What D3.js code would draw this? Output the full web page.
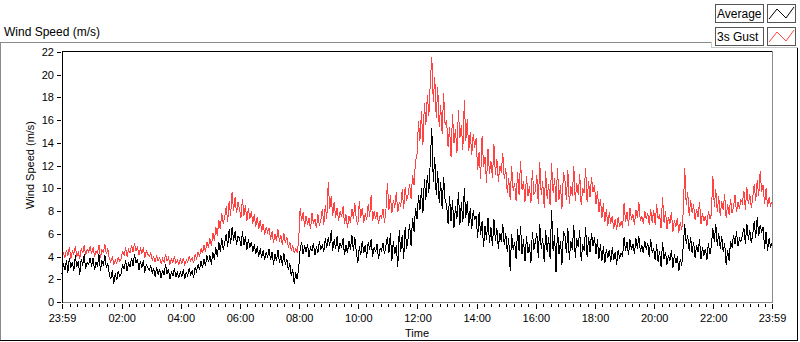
<!DOCTYPE html>
<style type="text/css">
    body { margin: 0; background: #fff; }
    text { font-family: Tahoma, "Liberation Sans", Arial, sans-serif; fill: #000; }
</style>
<svg width="800" height="342"></svg>
<script type="text/javascript" src="https://cdn.jsdelivr.net/npm/d3@7/dist/d3.min.js"></script>

<script type="text/javascript">

    // one reading every 3 minutes, 23:59 -> 23:59 next day (one row = one hour)
    let startTime = "2024-01-01 23:59";
    let stepMinutes = 3;

    let gust = [
        3.7, 4.3, 3.9, 4.6, 4.1, 4.8, 3.8, 4.5, 4.2, 4.9, 4.0, 4.4, 3.8, 4.7, 4.3, 5.0, 4.1, 4.6, 4.4, 4.9,
        4.2, 4.8, 4.0, 4.5, 4.3, 5.0, 3.9, 4.6, 4.4, 5.1, 4.2, 4.7, 3.8, 3.5, 4.0, 3.3, 3.7, 3.4, 3.9, 3.6,
        3.8, 4.5, 4.1, 4.8, 4.0, 4.6, 4.3, 5.0, 4.4, 5.2, 4.5, 4.9, 4.1, 4.7, 4.3, 4.8, 3.9, 4.5, 4.2, 4.0,
        4.3, 3.7, 4.0, 3.5, 4.1, 3.6, 3.9, 3.4, 3.8, 3.5, 4.2, 3.6, 3.9, 3.3, 3.8, 3.5, 4.0, 3.4, 3.7, 3.3,
        3.8, 3.4, 3.9, 3.3, 3.7, 3.5, 4.0, 3.6, 3.9, 3.4, 4.2, 3.8, 4.4, 4.0, 4.7, 4.3, 5.0, 4.4, 5.3, 4.8,
        5.6, 4.9, 6.1, 5.4, 6.6, 5.8, 7.2, 6.4, 7.8, 6.9, 7.5, 8.4, 7.0, 8.9, 7.6, 9.7, 8.0, 9.2, 7.8, 8.8,
        8.2, 7.4, 9.1, 7.6, 8.5, 7.1, 8.3, 7.3, 8.0, 6.9, 7.7, 6.6, 7.5, 6.4, 7.2, 6.2, 6.9, 5.9, 6.6, 6.1,
        6.5, 5.5, 6.2, 5.2, 6.0, 5.4, 6.4, 5.3, 5.9, 5.0, 6.1, 5.2, 5.7, 4.8, 5.3, 4.5, 5.0, 4.3, 4.7, 4.4,
        5.4, 8.3, 7.1, 7.9, 6.6, 7.6, 6.8, 7.4, 6.4, 7.8, 6.9, 7.3, 6.5, 7.7, 6.7, 7.2, 8.2, 6.8, 8.5, 7.3,
        10.6, 8.2, 9.3, 7.6, 8.8, 7.4, 8.3, 7.1, 8.0, 7.5, 8.4, 6.9, 7.7, 6.5, 7.6, 7.0, 8.2, 7.3, 8.7, 7.2,
        6.8, 8.9, 7.4, 8.3, 7.0, 7.8, 7.2, 8.6, 7.5, 9.4, 7.1, 8.0, 7.3, 7.9, 6.9, 7.6, 7.4, 8.2, 7.0, 8.1,
        10.5, 8.1, 9.4, 7.8, 9.0, 8.3, 9.7, 7.9, 8.8, 8.4, 9.9, 8.2, 10.1, 8.9, 9.5, 10.4, 9.1, 11.2, 10.3, 12.4,
        13.0, 15.9, 14.2, 16.8, 13.8, 17.5, 15.6, 18.2, 16.4, 19.3, 21.6, 17.6, 19.8, 16.2, 18.9, 15.4, 17.3, 14.8, 18.4, 15.6,
        16.0, 13.6, 15.4, 12.8, 16.5, 14.0, 15.2, 13.1, 16.9, 14.4, 15.6, 13.4, 17.8, 14.2, 16.1, 13.3, 15.0, 12.9, 14.8, 13.6,
        14.4, 11.6, 13.2, 10.8, 14.6, 11.9, 12.8, 10.5, 13.5, 11.3, 12.4, 10.9, 13.9, 11.2, 12.6, 10.6, 12.0, 11.4, 13.1, 10.8,
        11.8, 9.6, 10.9, 9.0, 12.0, 9.8, 10.5, 8.9, 11.4, 9.4, 12.4, 9.9, 10.6, 8.8, 11.1, 9.3, 10.2, 8.7, 11.6, 9.5,
        9.7, 11.2, 8.6, 12.3, 9.4, 10.6, 8.3, 11.5, 9.1, 10.4, 8.5, 12.2, 9.6, 10.9, 8.8, 11.8, 9.0, 10.3, 8.2, 11.4,
        10.8, 9.0, 11.6, 8.6, 10.2, 9.3, 12.0, 8.9, 10.5, 9.4, 11.3, 8.5, 10.0, 9.6, 11.8, 8.8, 10.6, 9.2, 11.0, 9.7,
        10.3, 8.6, 9.8, 7.9, 9.1, 7.4, 8.7, 7.0, 8.2, 6.7, 7.9, 6.9, 7.6, 6.4, 7.3, 6.3, 7.5, 6.6, 7.1, 6.5,
        8.7, 7.0, 7.9, 6.7, 8.3, 7.2, 7.7, 6.8, 8.1, 7.4, 8.8, 7.1, 7.6, 6.9, 8.0, 7.3, 7.8, 6.8, 8.2, 7.0,
        8.1, 6.8, 8.6, 7.3, 7.7, 6.5, 9.2, 7.0, 8.0, 6.4, 7.5, 6.9, 7.9, 6.2, 7.2, 6.6, 7.4, 6.1, 7.0, 6.3,
        7.9, 11.8, 8.5, 9.7, 7.6, 9.0, 7.8, 8.6, 7.2, 8.2, 7.5, 8.8, 6.9, 7.8, 7.1, 7.6, 6.7, 8.0, 7.3, 7.7,
        11.1, 8.4, 9.9, 7.9, 9.3, 7.6, 8.9, 8.1, 9.5, 7.4, 8.6, 7.7, 9.1, 7.8, 8.4, 9.4, 7.9, 8.8, 8.2, 9.0,
        8.7, 9.8, 8.1, 10.1, 8.6, 9.5, 8.3, 9.2, 10.4, 8.9, 10.7, 9.3, 11.5, 9.7, 10.3, 8.6, 10.0, 8.4, 9.2, 8.5, 8.8
    ];

    let average = [
        2.5, 3.4, 2.8, 3.7, 2.6, 3.9, 3.0, 3.5, 2.7, 4.1, 3.1, 3.6, 2.4, 3.8, 3.2, 4.2, 2.9, 3.5, 3.3, 3.9,
        3.1, 3.9, 2.8, 3.5, 3.2, 4.2, 2.7, 3.6, 3.3, 4.1, 3.0, 3.4, 2.4, 2.0, 2.8, 1.6, 2.5, 1.9, 2.7, 2.3,
        2.5, 3.3, 2.9, 3.7, 2.7, 3.5, 3.1, 3.9, 3.2, 4.2, 3.4, 3.8, 2.8, 3.6, 3.0, 3.7, 2.6, 3.3, 3.0, 2.8,
        3.2, 2.5, 3.0, 2.2, 3.1, 2.4, 2.9, 2.1, 2.8, 2.4, 3.3, 2.5, 2.9, 2.0, 2.7, 2.3, 3.0, 2.2, 2.6, 2.1,
        2.7, 2.2, 2.9, 2.0, 2.6, 2.3, 3.0, 2.4, 2.8, 2.1, 3.1, 2.7, 3.3, 2.8, 3.6, 3.0, 3.8, 3.2, 4.1, 3.5,
        4.1, 3.3, 4.4, 3.7, 4.8, 4.0, 5.3, 4.4, 5.6, 4.6, 5.2, 6.0, 4.8, 6.4, 5.1, 6.6, 5.4, 6.2, 5.0, 5.8,
        5.6, 4.9, 6.2, 5.0, 5.8, 4.6, 5.5, 4.8, 5.3, 4.4, 5.1, 4.2, 4.9, 4.0, 4.7, 3.9, 4.6, 3.7, 4.4, 3.9,
        4.7, 3.7, 4.4, 3.3, 4.2, 3.6, 4.6, 3.4, 4.1, 3.2, 4.3, 3.3, 3.8, 2.8, 3.4, 2.3, 2.9, 1.6, 2.6, 2.0,
        3.0, 4.6, 5.3, 4.2, 5.0, 4.4, 5.1, 4.0, 4.8, 4.5, 5.2, 4.1, 4.9, 4.3, 5.4, 4.6, 5.0, 4.4, 5.6, 4.8,
        5.7, 4.9, 6.3, 4.5, 5.5, 4.7, 5.8, 4.4, 5.2, 4.8, 5.6, 4.1, 5.0, 4.3, 5.4, 4.6, 5.9, 4.5, 5.7, 4.4,
        3.4, 4.9, 4.1, 5.4, 4.3, 5.0, 3.9, 5.3, 4.6, 5.5, 4.0, 4.8, 4.4, 5.1, 3.8, 4.7, 4.5, 5.2, 4.2, 5.0,
        5.7, 4.3, 6.1, 3.6, 5.4, 4.2, 5.0, 3.1, 6.3, 4.4, 5.9, 3.8, 6.6, 4.7, 5.6, 6.9, 4.9, 7.4, 6.2, 8.3,
        7.3, 9.4, 8.1, 10.0, 7.8, 10.8, 9.0, 11.2, 9.6, 12.4, 15.3, 10.6, 12.8, 9.4, 11.5, 8.7, 10.6, 8.2, 11.0, 8.9,
        8.6, 6.9, 9.3, 7.1, 9.0, 6.5, 8.4, 7.3, 9.7, 6.8, 8.8, 7.0, 10.0, 7.4, 8.9, 6.7, 8.3, 6.4, 8.1, 7.2,
        7.6, 5.6, 7.9, 5.9, 7.1, 4.8, 6.7, 5.5, 7.4, 5.2, 6.6, 4.9, 7.3, 5.4, 6.5, 4.7, 6.1, 5.3, 6.9, 5.0,
        6.1, 4.4, 5.6, 2.7, 6.0, 4.6, 5.3, 3.8, 6.4, 4.5, 6.7, 4.2, 5.5, 3.6, 5.8, 4.3, 5.1, 3.4, 6.2, 4.6,
        5.3, 6.1, 3.9, 6.9, 4.7, 5.6, 3.5, 6.3, 4.4, 5.7, 3.8, 8.1, 4.5, 5.9, 2.6, 6.5, 4.2, 5.4, 3.3, 6.2,
        5.9, 4.3, 6.5, 3.7, 5.4, 4.6, 6.8, 3.9, 5.6, 4.8, 6.3, 3.6, 5.1, 4.5, 6.6, 4.0, 5.7, 4.4, 6.1, 4.9,
        5.7, 4.2, 5.5, 3.8, 5.1, 3.6, 4.9, 3.4, 4.7, 3.9, 4.6, 3.5, 4.8, 3.7, 4.4, 3.3, 4.6, 3.8, 4.3, 4.0,
        5.7, 4.5, 5.3, 4.1, 5.5, 4.6, 5.1, 4.2, 5.6, 4.7, 5.8, 4.4, 5.0, 4.3, 5.4, 4.6, 5.2, 4.0, 5.5, 4.4,
        4.7, 3.7, 5.1, 3.5, 4.5, 3.1, 5.3, 3.8, 4.4, 3.3, 4.1, 3.6, 4.6, 3.0, 4.2, 3.4, 4.0, 2.7, 3.8, 3.2,
        4.9, 6.9, 5.1, 5.9, 4.5, 5.7, 4.3, 5.3, 3.9, 5.0, 4.4, 5.5, 3.8, 4.8, 4.1, 4.7, 3.7, 5.2, 4.2, 4.9,
        6.5, 5.3, 6.9, 4.9, 6.1, 4.7, 5.8, 4.4, 5.2, 3.3, 4.6, 3.6, 5.4, 4.8, 5.9, 5.1, 6.2, 4.9, 5.6, 5.3,
        5.9, 6.5, 5.1, 6.9, 5.5, 6.3, 5.2, 6.0, 7.1, 5.6, 7.5, 5.8, 6.8, 6.1, 6.6, 4.7, 6.2, 4.5, 5.6, 4.8, 5.2
    ];

    let yTicks = [0, 2, 4, 6, 8, 10, 12, 14, 16, 18, 20, 22];
    let xTickLabels = ["23:59", "02:00", "04:00", "06:00", "08:00", "10:00", "12:00",
                       "14:00", "16:00", "18:00", "20:00", "22:00", "23:59"];
    let seriesNames = ["Average", "3s Gust"];
    let seriesColors = ["#000000", "#ff4242"];

    var svg = d3.select("svg");
    var parse = d3.timeParse("%Y-%m-%d %H:%M");
    var t0 = parse(startTime);
    var t1 = d3.timeMinute.offset(t0, 24 * 60);

    // plot box
    var pLeft = 62, pRight = 772, pTop = 51, pBottom = 302;

    var x = d3.scaleTime().domain([t0, t1]).range([pLeft, pRight]);
    var y = d3.scaleLinear().domain([0, 22]).range([pBottom, pTop + 1]);

    // tick label -> date (first label is the start day, others the next day)
    var xTickDates = xTickLabels.map(function(s, i) {
        if (i == 0) return t0;
        if (i == xTickLabels.length - 1) return t1;
        var hm = s.split(":");
        var d = new Date(t0.getTime());
        d.setDate(d.getDate() + 1);
        d.setHours(+hm[0], +hm[1], 0, 0);
        return d;
    });

    // outer frame
    var frame = svg.append("g").attr("shape-rendering", "crispEdges");
    frame.append("line").attr("x1", 0).attr("x2", 711).attr("y1", 42.5).attr("y2", 42.5).attr("stroke", "#8a8a8a");
    frame.append("line").attr("x1", 711.5).attr("x2", 711.5).attr("y1", 42).attr("y2", 48).attr("stroke", "#c8c8c8");
    frame.append("line").attr("x1", 711).attr("x2", 798).attr("y1", 47.5).attr("y2", 47.5).attr("stroke", "#c8c8c8");
    frame.append("line").attr("x1", 0.5).attr("x2", 0.5).attr("y1", 42).attr("y2", 341).attr("stroke", "#8a8a8a");
    frame.append("line").attr("x1", 0).attr("x2", 798).attr("y1", 340.5).attr("y2", 340.5).attr("stroke", "#000");
    frame.append("line").attr("x1", 797.5).attr("x2", 797.5).attr("y1", 48).attr("y2", 341).attr("stroke", "#000");

    svg.append("text").attr("x", 4).attr("y", 36).style("font-size", "12px").text("Wind Speed (m/s)");

    // series lines, gust first so average sits on top
    var line = d3.line()
        .x(function(d, i) { return x(d3.timeMinute.offset(t0, i * stepMinutes)); })
        .y(function(d) { return y(d); });

    var plot = svg.append("g");
    plot.append("path").datum(gust)
        .attr("d", line).attr("fill", "none")
        .attr("stroke", seriesColors[1]).attr("stroke-width", 1)
        .attr("shape-rendering", "crispEdges");
    plot.append("path").datum(average)
        .attr("d", line).attr("fill", "none")
        .attr("stroke", seriesColors[0]).attr("stroke-width", 1)
        .attr("shape-rendering", "crispEdges");

    // plot border: dark top/left, grey bottom/right
    var border = svg.append("g").attr("shape-rendering", "crispEdges");
    border.append("line").attr("x1", pLeft).attr("x2", pRight).attr("y1", pTop + 0.5).attr("y2", pTop + 0.5).attr("stroke", "#000");
    border.append("line").attr("x1", pLeft + 0.5).attr("x2", pLeft + 0.5).attr("y1", pTop).attr("y2", pBottom + 1).attr("stroke", "#000");
    border.append("line").attr("x1", pRight + 0.5).attr("x2", pRight + 0.5).attr("y1", pTop).attr("y2", pBottom + 1).attr("stroke", "#8a8a8a");
    border.append("line").attr("x1", pLeft + 1).attr("x2", pRight + 1).attr("y1", pBottom + 0.5).attr("y2", pBottom + 0.5).attr("stroke", "#8a8a8a");

    // y axis
    var yAxis = svg.append("g")
        .attr("transform", "translate(" + (pLeft - 1) + ",0)")
        .call(d3.axisLeft(y).tickValues(yTicks).tickSize(4).tickPadding(3));
    yAxis.select(".domain").remove();
    yAxis.selectAll("line").attr("shape-rendering", "crispEdges");
    yAxis.selectAll("text").style("font-size", "11px").attr("font-family", null);

    // x axis, minor ticks every 15 minutes
    var minor = d3.timeMinute.every(15).range(t0, t1).filter(function(d) {
        return !xTickDates.some(function(m) { return Math.abs(m - d) < 60000; });
    });
    var xMinor = svg.append("g")
        .attr("transform", "translate(0," + (pBottom + 2) + ")")
        .call(d3.axisBottom(x).tickValues(minor).tickSize(3).tickFormat(""));
    xMinor.select(".domain").remove();
    xMinor.selectAll("line").attr("shape-rendering", "crispEdges");

    var xAxis = svg.append("g")
        .attr("transform", "translate(0," + (pBottom + 2) + ")")
        .call(d3.axisBottom(x).tickValues(xTickDates).tickSize(5).tickPadding(5)
            .tickFormat(function(d, i) { return xTickLabels[i]; }));
    xAxis.select(".domain").remove();
    xAxis.selectAll("line").attr("shape-rendering", "crispEdges");
    xAxis.selectAll("text").style("font-size", "11px").attr("font-family", null);

    // axis titles
    svg.append("text").attr("x", 417).attr("y", 337).attr("text-anchor", "middle")
        .style("font-size", "11px").text("Time");
    svg.append("text").attr("transform", "translate(34,165) rotate(-90)").attr("text-anchor", "middle")
        .style("font-size", "11px").text("Wind Speed (m/s)");

    // legend
    var legend = svg.append("g").selectAll("g")
        .data(seriesNames)
        .enter()
        .append("g")
        .attr("transform", function(d, i) { return "translate(715," + (4 + i * 23) + ")"; });

    legend.append("rect").attr("x", 0.5).attr("y", 0.5).attr("width", 48).attr("height", 18)
        .attr("fill", "#fff").attr("stroke", "#555").attr("shape-rendering", "crispEdges");
    legend.append("text").attr("x", 2).attr("y", 14).style("font-size", "12px").text(function(d) { return d; });
    legend.append("rect").attr("x", 52.5).attr("y", 0.5).attr("width", 28).attr("height", 18)
        .attr("fill", "#fff").attr("stroke", "#555").attr("shape-rendering", "crispEdges");
    legend.append("polyline")
        .attr("points", "54,15 62,5 71,14 79,3")
        .attr("fill", "none")
        .attr("stroke", function(d, i) { return seriesColors[i]; });

</script>
